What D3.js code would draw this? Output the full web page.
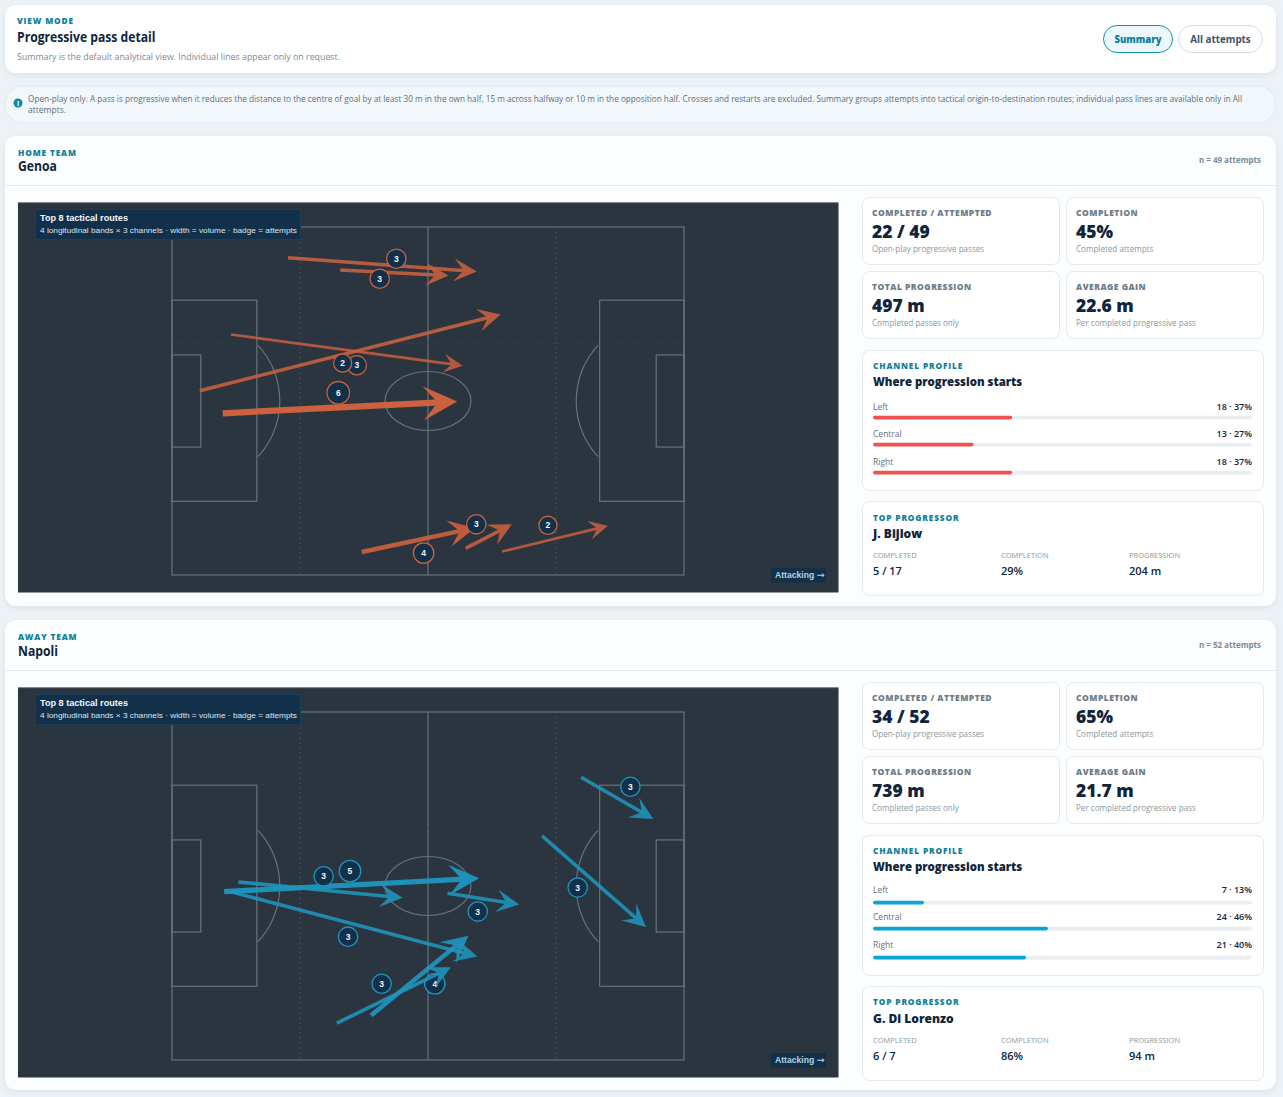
<!DOCTYPE html>
<html><head><meta charset="utf-8"><title>Progressive pass detail</title>
<script src="https://cdn.jsdelivr.net/npm/d3@7/dist/d3.min.js"></script>
<style>html,body{margin:0;padding:0;background:#edf2f6;overflow:hidden}svg{display:block}
.sans{font-family:"Open Sans","Noto Sans",sans-serif}.arial{font-family:"Liberation Sans",Arial,sans-serif}</style></head>
<body><svg id="c" width="1283" height="1097"></svg>
<script>
const teamNames=["Genoa","Napoli"];
const teamRoles=["HOME TEAM","AWAY TEAM"];
const attemptTotals=[49,52];
const statValues=[["22 / 49","45%","497 m","22.6 m"],["34 / 52","65%","739 m","21.7 m"]];
const statLabels=["COMPLETED / ATTEMPTED","COMPLETION","TOTAL PROGRESSION","AVERAGE GAIN"];
const statSubs=["Open-play progressive passes","Completed attempts","Completed passes only","Per completed progressive pass"];
const channelNames=["Left","Central","Right"];
const channelCounts=[[18,13,18],[7,24,21]];
const channelPcts=[[37,27,37],[13,46,40]];
const progressorNames=["J. Bijlow","G. Di Lorenzo"];
const progressorLabels=["COMPLETED","COMPLETION","PROGRESSION"];
const progressorValues=[["5 / 17","29%","204 m"],["6 / 7","86%","94 m"]];
const homeRouteStart=[[23.8,6.0],[34.5,8.4],[12.1,21.0],[5.7,32.0],[10.4,36.4],[38.9,63.5],[60.2,62.8],[67.7,63.4]];
const homeRouteEnd=[[62.5,8.7],[56.7,9.5],[59.6,27.1],[67.4,17.1],[58.5,34.1],[62.1,58.8],[69.7,58.1],[89.4,58.4]];
const homeRouteBadge=[[46.0,6.2],[42.6,10.1],[35.0,26.6],[37.9,27.0],[34.1,32.4],[51.6,63.7],[62.4,58.1],[77.1,58.3]];
const homeRouteAttempts=[3,3,2,3,6,4,3,2];
const awayRouteStart=[[83.9,12.75],[75.9,24.2],[10.7,35.1],[13.6,33.2],[56.5,35.4],[11.9,35.1],[40.8,59.3],[33.8,60.8]];
const awayRouteEnd=[[98.7,20.9],[97.2,42.0],[63.0,32.5],[47.3,36.3],[71.2,37.6],[62.6,47.8],[60.8,43.7],[57.2,49.9]];
const awayRouteBadge=[[94.0,14.6],[83.2,34.3],[36.5,31.1],[31.1,32.1],[62.7,39.0],[36.1,43.9],[53.9,53.1],[43.0,53.1]];
const awayRouteAttempts=[3,3,5,3,3,3,4,3];

const routeSets=[
 {start:homeRouteStart,end:homeRouteEnd,badge:homeRouteBadge,n:homeRouteAttempts,color:"#cb613e",bar:"#ef5350"},
 {start:awayRouteStart,end:awayRouteEnd,badge:awayRouteBadge,n:awayRouteAttempts,color:"#1f95be",bar:"#0ea5d4"}];

const svg=d3.select("#c");
const INK="#10243a",TEAL="#0f7f9a",GREY="#7c8a97",LINE="#e2e9ef";
const defs=svg.append("defs");
const f=defs.append("filter").attr("id","sh").attr("x","-2%").attr("y","-10%").attr("width","104%").attr("height","125%");
f.append("feDropShadow").attr("dx",0).attr("dy",2).attr("stdDeviation",3).attr("flood-color","#9fb2c0").attr("flood-opacity",.25);

function rect(p,x,y,w,h,r,fill,stroke,extra){const e=p.append("rect").attr("x",x).attr("y",y).attr("width",w).attr("height",h).attr("rx",r).attr("fill",fill);
 if(stroke)e.attr("stroke",stroke).attr("stroke-width",1);if(extra)e.attr("filter",extra);return e;}
function text(p,s,x,y,size,weight,fill,o={}){const e=p.append("text").text(s).attr("x",x).attr("y",y).attr("font-size",size).attr("font-weight",weight).attr("fill",fill).attr("class",o.cls||"sans");
 if(o.ls)e.attr("letter-spacing",o.ls);if(o.anchor)e.attr("text-anchor",o.anchor);
 if(o.len)e.attr("textLength",o.len).attr("lengthAdjust","spacingAndGlyphs");
 if(o.sq)e.attr("textLength",e.node().getComputedTextLength()*o.sq).attr("lengthAdjust","spacingAndGlyphs");
 return e;}

// top card
rect(svg,5,5,1271,68,11,"#fff",null,"url(#sh)");
text(svg,"VIEW MODE",17,23.5,8.3,800,TEAL,{ls:.85});
text(svg,"Progressive pass detail",17,42,14,700,INK,{sq:.868});
text(svg,"Summary is the default analytical view. Individual lines appear only on request.",17,60,8.5,400,GREY,{len:323});
rect(svg,1103.5,25.5,69,27,13.5,"#ebf7fb","#1593b1");
text(svg,"Summary",1138,43,9.8,800,TEAL,{anchor:"middle",sq:.97});
rect(svg,1178.5,25.5,84,27,13.5,"#fff","#d5dee6");
text(svg,"All attempts",1220.5,43,9.8,700,"#3f5467",{anchor:"middle"});

// note
rect(svg,5,86,1271,37,18,"#f1f7fb","#e0e8ee");
svg.append("circle").attr("cx",18).attr("cy",103).attr("r",4.5).attr("fill","#0f8aa8");
text(svg,"i",18,105.5,7,700,"#fff",{anchor:"middle"});
text(svg,"Open-play only. A pass is progressive when it reduces the distance to the centre of goal by at least 30 m in the own half, 15 m across halfway or 10 m in the opposition half. Crosses and restarts are excluded. Summary groups attempts into tactical origin-to-destination routes; individual pass lines are available only in All",28,102,8.3,400,"#5f6f7d",{len:1214});
text(svg,"attempts.",28,113,8.5,400,"#5f6f7d");

const pxX=d3.scaleLinear().domain([0,105]).range([172,684]);
const arcGen=d3.line();

function section(i,dy){
 const g=svg.append("g").attr("transform",`translate(0,${dy})`);
 const rs=routeSets[i];
 const up=i?-1:0;
 rect(g,5,136+up,1271,470,11,"#fbfdfe",null,"url(#sh)");
 g.append("line").attr("x1",5).attr("x2",1276).attr("y1",185.5).attr("y2",185.5).attr("stroke",LINE);
 text(g,teamRoles[i],18,156+up,8.3,800,TEAL,{ls:.85});
 text(g,teamNames[i],18,171,14,700,INK,{sq:.87});
 text(g,`n = ${attemptTotals[i]} attempts`,1261,163,8,700,GREY,{anchor:"end"});

 // pitch
 rect(g,18,203,820.5,389.5,0,"#2b3540");
 g.append("line").attr("x1",18).attr("x2",838.5).attr("y1",202.8).attr("y2",202.8).attr("stroke","#4a5560");
 const y=d3.scaleLinear().domain([0,68]).range([227,575]),x=pxX;
 const pg=g.append("g").attr("fill","none").attr("stroke","#66727d").attr("stroke-width",1.2);
 const box=(x0,x1,y0,y1)=>pg.append("rect").attr("x",x(x0)).attr("y",y(y0)).attr("width",x(x1)-x(x0)).attr("height",y(y1)-y(y0));
 box(0,105,0,68);
 box(0,17.4,14.3,53.6);box(87.7,105,14.3,53.6);
 box(0,5.9,25,43);box(99.3,105,25,43);
 pg.append("line").attr("x1",x(52.5)).attr("x2",x(52.5)).attr("y1",y(0)).attr("y2",y(68));
 pg.append("ellipse").attr("cx",x(52.5)).attr("cy",y(34)).attr("rx",43).attr("ry",29.5);
 [26.3,78.75].forEach(v=>pg.append("line").attr("x1",x(v)).attr("x2",x(v)).attr("y1",y(0)).attr("y2",y(68)).attr("stroke","#4b5763").attr("stroke-dasharray","2 3").attr("stroke-width",.8));
 [22.67,45.33].forEach(v=>pg.append("line").attr("x1",x(0)).attr("x2",x(105)).attr("y1",y(v)).attr("y2",y(v)).attr("stroke","#36414c").attr("stroke-dasharray","2 3").attr("stroke-width",.8));
 const a=d3.range(-1,1.01,.1).map(t=>{const th=t*0.78;return [x(6.65+15.45*Math.cos(th)),y(34+15.45*Math.sin(th))];});
 pg.append("path").attr("d",arcGen(a));
 pg.append("path").attr("d",arcGen(a.map(p=>[x(105)+x(0)-p[0],p[1]])));

 // routes, heaviest first
 const routes=rs.n.map((n,k)=>({n,s:rs.start[k],e:rs.end[k],b:rs.badge[k]})).sort((p,q)=>d3.descending(p.n,q.n));
 const sw=d3.scaleLinear().domain([2,6]).range([2.7,6.2]);
 const hd=d3.scaleLinear().domain([2,6]).range([19,34]);
 const op=d3.scaleLinear().domain([2,6]).range([.84,1]);
 const rg=g.append("g").selectAll("g").data(routes).join("g");
 rg.each(function(d){
  const q=d3.select(this),x1=x(d.s[0]),y1=y(d.s[1]),x2=x(d.e[0]),y2=y(d.e[1]);
  const ang=Math.atan2(y2-y1,x2-x1),L=hd(d.n),W=L/2,c=Math.cos(ang),s=Math.sin(ang);
  const pt=(u,v)=>[x2+u*c-v*s,y2+u*s+v*c];
  const ar=q.append("g").attr("opacity",op(d.n));
  ar.append("line").attr("x1",x1).attr("y1",y1).attr("x2",pt(-L*.5,0)[0]).attr("y2",pt(-L*.5,0)[1]).attr("stroke",rs.color).attr("stroke-width",sw(d.n));
  ar.append("path").attr("d",d3.line()([pt(0,0),pt(-L,W),pt(-L*.58,0),pt(-L,-W)])+"Z").attr("fill",rs.color);
  q.append("circle").attr("cx",x(d.b[0])).attr("cy",y(d.b[1])).attr("r",8+.55*d.n).attr("fill","#12304a").attr("stroke",rs.color).attr("stroke-width",1.3);
  text(q,d.n,x(d.b[0]),y(d.b[1])+3,8.5,700,"#f1f6fa",{anchor:"middle",cls:"arial"});
 });

 // overlays
 rect(g,35,209,266,31,0,"#12304a");
 g.append("rect").attr("x",35.5).attr("y",209.5).attr("width",265).attr("height",30).attr("fill","none").attr("stroke","#1e4460").attr("stroke-width",.8);
 text(g,"Top 8 tactical routes",40,221,9.6,700,"#f4f8fb",{cls:"arial",sq:.95});
 text(g,"4 longitudinal bands × 3 channels · width = volume · badge = attempts",40,233,8,400,"#dbe6ee",{cls:"arial",len:257});
 rect(g,771,568,55,14.5,0,"#12304a");
 const att=text(g,"Attacking ",775,578,8.6,700,"#b5d3e4",{cls:"arial"});
 att.append("tspan").attr("font-family","DejaVu Sans").attr("font-size",9.5).attr("font-weight",400).text("→");

 // stat cards
 const cx=[863,1067],cy=[198,272];
 statValues[i].forEach((v,k)=>{
  const X=cx[k%2],Y=cy[k>>1];
  rect(g,X-.5,Y-.5,197,67,7,"#fff",LINE);
  text(g,statLabels[k],X+9,Y+18,8.5,800,"#6c7b89",{ls:.48});
  text(g,v,X+9,Y+39.5,18,800,INK,{sq:.97});
  text(g,statSubs[k],X+9,Y+54,8.6,400,"#8a97a3",{sq:.94});
 });
 // channel card
 const lift=i?-2:0;
 rect(g,862.5,350.5,401,140,7,"#fff",LINE);
 text(g,"CHANNEL PROFILE",873,369,8.3,800,TEAL,{ls:.85});
 text(g,"Where progression starts",873,385.5,12,800,INK,{sq:.95});
 const bw=d3.scaleLinear().domain([0,1]).range([0,379]);
 channelNames.forEach((nm,k)=>{
  const yy=[410,437,465][k];
  text(g,nm,873,yy+lift,8.5,400,"#5f6f7d");
  text(g,`${channelCounts[i][k]} · ${channelPcts[i][k]}%`,1252,yy+lift,9,600,INK,{anchor:"end"});
  const by=yy+5.8+(i&&k==1?-1:0);
  rect(g,873,by,379,3.6,1.8,"#e8eef2");
  rect(g,873,by,bw(channelCounts[i][k]/attemptTotals[i]),3.6,1.8,rs.bar);
 });
 // progressor
 rect(g,862.5,501.5,401,94,7,"#fff",LINE);
 text(g,"TOP PROGRESSOR",873,521+up,8.3,800,TEAL,{ls:.85});
 text(g,progressorNames[i],873,538,12,800,INK);
 progressorLabels.forEach((l,k)=>{
  const X=873+k*128;
  text(g,l,X,558,7.5,400,"#8a97a3");
  text(g,progressorValues[i][k],X,575,11,600,INK);
 });
}
section(0,0);section(1,485);
</script></body></html>
